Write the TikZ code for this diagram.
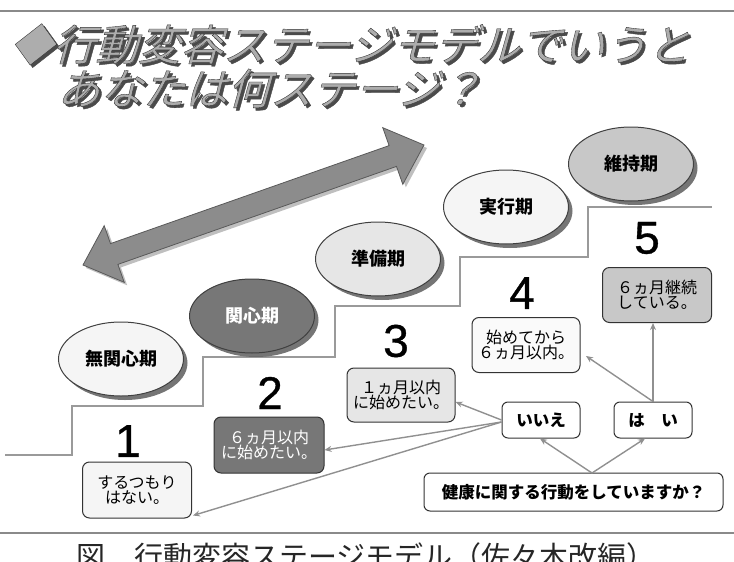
\documentclass[tikz,border=0pt]{standalone}
\usepackage{fontspec}
\setmainfont{Noto Sans CJK JP}
\newfontfamily\jp{Noto Sans CJK JP}
\newfontfamily\jpsl{Noto Sans CJK JP}[FakeSlant=0.28, FakeBold=0.9]
\newfontfamily\numf{Liberation Sans}[FakeBold=0.8]
\usetikzlibrary{shapes.geometric,shadows,arrows.meta}
\definecolor{ttl}{HTML}{ADADAD}
\definecolor{ttlsh}{HTML}{4A4A4A}
\definecolor{rule}{HTML}{8A8A8A}
\definecolor{stair}{HTML}{9A9A9A}
\definecolor{conn}{HTML}{909090}
\definecolor{dk}{HTML}{777777}
\definecolor{mid}{HTML}{C8C8C8}
\definecolor{lt}{HTML}{E6E6E6}
\definecolor{vlt}{HTML}{F5F5F5}
\newcommand\darkstroke{\special{pdf:literal 0.2 G}}
\begin{document}
\begin{tikzpicture}[x=1pt,y=-1pt,
  titletext/.style={inner sep=0pt, text=ttl, font=\jpsl\fontsize{42.5}{42.5}\selectfont},
  titleshadow/.style={inner sep=0pt, text=ttlsh, font=\jpsl\fontsize{42.5}{42.5}\selectfont},
  stage/.style={ellipse, draw=black!75, line width=1pt, minimum width=125pt, minimum height=74pt, inner sep=0pt,
    font=\jp\bfseries\fontsize{18}{18}\selectfont,
    drop shadow={shadow xshift=4pt, shadow yshift=-4pt, fill=black!60, opacity=0.9}},
  ans/.style={rounded corners=7pt, draw=black!80, line width=1pt, minimum width=108pt, minimum height=55pt,
    align=center, inner sep=0pt, font=\jp\fontsize{16}{15}\selectfont},
  yn/.style={rounded corners=6pt, draw=black!80, line width=1pt, minimum width=78pt, minimum height=36pt,
    inner sep=0pt, fill=white, font=\jp\bfseries\fontsize{16.5}{16.5}\selectfont},
  numb/.style={inner sep=0pt, font=\numf\fontsize{46}{46}\selectfont},
  cn/.style={draw=conn, line width=1.4pt, -{Stealth[length=7pt,width=6pt]}},
  ]
\useasboundingbox (0,0) rectangle (734,562);
% rules
\draw[rule, line width=1.5pt] (0,11) -- (734,11);
\draw[rule, line width=1.5pt] (0,533) -- (734,533);
% title
\node[titleshadow, anchor=base west] at (12.5,63) {◆行動変容ステージモデルでいうと};
\node[titletext, anchor=base west] (t1) at (10,60.5) {\darkstroke ◆行動変容ステージモデルでいうと};
\node[titleshadow, anchor=base west] at (59.5,107) {あなたは何ステージ？};
\node[titletext, anchor=base west] (t2) at (57,104.5) {\darkstroke あなたは何ステージ？};
% big double arrow
\fill[black!25] (107.2,228.7) -- (113.5,246.6) -- (392.1,148.6) -- (385.8,130.7) -- (427,148) -- (405.8,187.3) -- (399.5,169.4) -- (120.9,267.4) -- (127.2,285.3) -- (86,268) -- cycle;
\filldraw[fill=black!45, draw=black!65, line width=0.8pt] (104.2,225.7) -- (110.5,243.6) -- (389.1,145.6) -- (382.8,127.7) -- (424,145) -- (402.8,184.3) -- (396.5,166.4) -- (117.9,264.4) -- (124.2,282.3) -- (83,265) -- cycle;
% stairs
\draw[stair, line width=1.2pt] (5,455) -- (72,455) -- (72,406) -- (203,406) -- (203,357) -- (335,357) -- (335,306) -- (460,306) -- (460,257) -- (588,257) -- (588,207) -- (712,207);
% stages
\node[stage, fill=vlt] (s1) at (121,359) {無関心期};
\node[stage, fill=dk, text=white] (s2) at (252,316) {関心期};
\node[stage, fill=lt] (s3) at (378,259) {準備期};
\node[stage, fill=vlt] (s4) at (506,207) {実行期};
\node[stage, fill=mid] (s5) at (631,164) {維持期};
% numbers
\node[numb] (n1) at (128,441) {1};
\node[numb] (n2) at (270,393) {2};
\node[numb] (n3) at (396,341) {3};
\node[numb] (n4) at (522,293) {4};
\node[numb] (n5) at (647,238) {5};
% answer boxes
\node[ans, fill=vlt, minimum width=109pt, minimum height=56pt] (b1) at (137,490) {するつもり\\はない。};
\node[ans, fill=dk, text=white, minimum width=110pt, minimum height=56pt] (b2) at (269,445) {６ヵ月以内\\に始めたい。};
\node[ans, fill=lt, minimum height=54pt] (b3) at (401,395) {１ヵ月以内\\に始めたい。};
\node[ans, fill=white!98!black] (b4) at (526,345) {始めてから\\６ヵ月以内。};
\node[ans, fill=mid, minimum width=109pt] (b5) at (657,295) {６ヵ月継続\\している。};
% yes / no / question
\node[yn] (no) at (541,420) {いいえ};
\node[yn] (yes) at (653,420) {は　い};
\node[yn, minimum width=299pt, minimum height=38pt] (q) at (573.5,492) {健康に関する行動をしていますか？};
% connectors
\coordinate (qtop) at (592,473);
\coordinate (t4) at (586,356);
\draw[cn] (qtop) -- ([xshift=-1pt]no.south);
\draw[cn] (qtop) -- ([xshift=-8pt]yes.south);
\draw[cn] (yes.north) -- (yes.north |- b5.south);
\draw[cn] (yes.north) -- (t4);
\draw[cn] (no.west) -- ([yshift=-7pt]b3.east);
\draw[cn] ([yshift=-2pt]no.west) -- ([yshift=-5pt]b2.east);
\draw[cn] ([yshift=-2pt]no.west) -- ([xshift=1pt,yshift=3pt]b1.south east);
% caption
\node[inner sep=0pt, anchor=base west, text=black!85, font=\jp\fontsize{29}{29}\selectfont] (cap) at (76,567) {図　行動変容ステージモデル（佐々木改編）};
\end{tikzpicture}
\end{document}
